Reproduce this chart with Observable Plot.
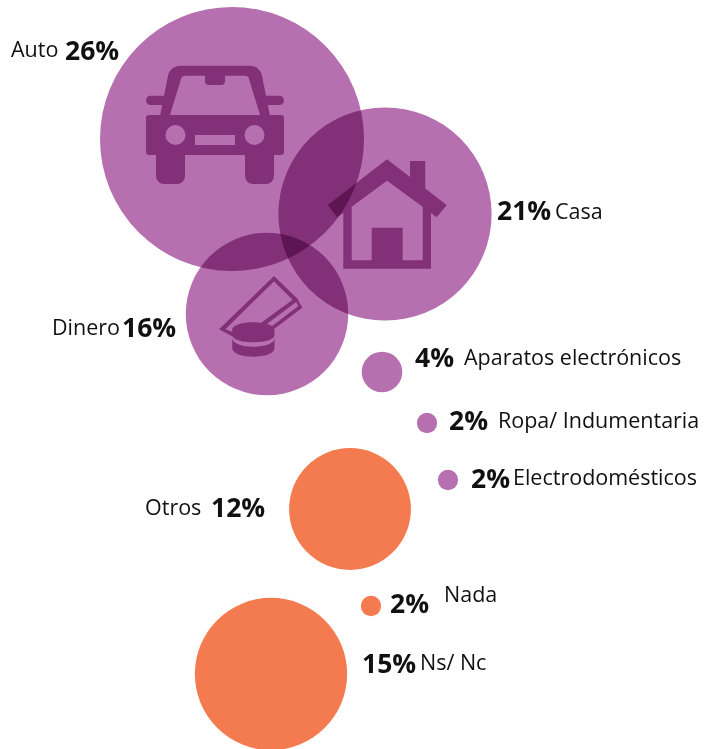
<!DOCTYPE html>
<html lang="es">
<head>
<meta charset="utf-8">
<title>Burbujas</title>
<style>
  html, body { margin: 0; padding: 0; background: #fff; }
  svg { display: block; }
</style>
<script src="https://cdn.jsdelivr.net/npm/d3@7"></script>
<script src="https://cdn.jsdelivr.net/npm/@observablehq/plot@0.6"></script>
</head>
<body>
<div id="chart"></div>
<script>
// Categories and their shares
const categories = ["Auto", "Casa", "Dinero", "Aparatos electrónicos", "Ropa/ Indumentaria", "Electrodomésticos", "Otros", "Nada", "Ns/ Nc"];
const values = [26, 21, 16, 4, 2, 2, 12, 2, 15];
const groups = ["a", "a", "a", "a", "a", "a", "b", "b", "b"];

// Hand-placed layout of the bubbles and their labels
const bubbleX = [231.5, 384.5, 266.5, 381.5, 426.5, 447.5, 349.5, 370.5, 270.5];
const bubbleY = [138.5, 213.5, 313.5, 371.5, 422.5, 479.5, 508.5, 605.5, 673.5];
const shareX = [64.5, 496.5, 121.5, 414.5, 448.5, 470.5, 210.5, 389.5, 361.5];
const shareY = [51, 211, 328, 358.5, 421.5, 479.5, 508, 604.5, 664.5];
const nameX = [10.5, 554.5, 51.5, 463.5, 497.5, 512.5, 144.5, 443.5, 419.5];
const nameY = [50, 212, 328, 358, 421, 478, 508, 595, 663];

const purple = "#B66FAF";
const orange = "#F47B50";
const ink = "#111";

const rows = categories.map((name, i) => ({
  name, value: values[i], group: groups[i],
  bx: bubbleX[i], by: bubbleY[i],
  sx: shareX[i], sy: shareY[i],
  nx: nameX[i], ny: nameY[i]
}));

// Path helpers for the pictograms: clockwise shapes fill, counter-clockwise ones cut holes
function poly(c, pts) {
  c.moveTo(pts[0][0], pts[0][1]);
  for (let i = 1; i < pts.length; ++i) c.lineTo(pts[i][0], pts[i][1]);
  c.closePath();
}
function rounded(c, pts, r) {
  const n = pts.length;
  const a = pts[n - 1], b = pts[0];
  c.moveTo((a[0] + b[0]) / 2, (a[1] + b[1]) / 2);
  for (let i = 0; i < n; ++i) {
    const p = pts[i], q = pts[(i + 1) % n];
    const rad = Array.isArray(r) ? r[i] : r;
    c.arcTo(p[0], p[1], (p[0] + q[0]) / 2, (p[1] + q[1]) / 2, rad);
  }
  c.closePath();
}
function hole(c, x, y, r) {
  c.moveTo(x + r, y);
  c.arc(x, y, r, 0, 2 * Math.PI, true);
  c.closePath();
}

const carSymbol = {
  draw(c) {
    rounded(c, [[-69, -5], [69, -5], [69, 35], [-69, 35]], 3);
    rounded(c, [[-59, 30], [-30, 30], [-30, 64], [-59, 64]], [0, 0, 8, 8]);
    rounded(c, [[30, 30], [59, 30], [59, 64], [30, 64]], [0, 0, 8, 8]);
    hole(c, -39.5, 15, 10);
    hole(c, 39.5, 15, 10);
    poly(c, [[-20, 15], [-20, 25], [20, 25], [20, 15]]);
    // Cabin with the windscreen and rear-view mirror cut out
    rounded(c, [[-55, -4], [-45, -54.3], [45, -54.3], [55, -4]], [0, 12, 12, 0]);
    rounded(c, [[-45, -5], [45, -5], [33, -44.3], [10, -44.3], [10, -35], [-10, -35], [-10, -44.3], [-33, -44.3]],
      [0, 0, 4, 0, 4, 4, 0, 4]);
    // Side mirrors
    rounded(c, [[-69, -24.3], [-44, -24.3], [-44, -15], [-69, -15]], [4.6, 0, 0, 4.6]);
    rounded(c, [[44, -24.3], [69, -24.3], [69, -15], [44, -15]], [0, 4.6, 4.6, 0]);
  }
};

const houseSymbol = {
  draw(c) {
    poly(c, [[0, -50.7], [23, -33], [23, -49], [38.3, -49], [38.3, -21.4], [59.7, -5], [49.7, 7.3], [44, 3.1],
      [44, 58.7], [-43.7, 58.7], [-43.7, 3.1], [-49.7, 7.3], [-59.3, -5]]);
    poly(c, [[0, -29.3], [-35.3, -3.3], [-35.3, 50.3], [-15.3, 50.3], [-15.3, 17.7], [15.7, 17.7], [15.7, 50.3],
      [35.7, 50.3], [35.7, -3.3]]);
  }
};

const moneySymbol = {
  draw(c) {
    // Banknote outline
    poly(c, [[19, -49], [43.8, -25], [-12, 17], [-36, 4.3]]);
    poly(c, [[19, -43.6], [-29.6, 4.2], [-12, 11], [37.6, -25.2]]);
    // Second note behind it
    poly(c, [[42.5, -25.5], [47.4, -17.5], [45, -16], [41, -23]]);
    poly(c, [[44.3, -19.8], [47.2, -17.3], [19, 4], [17.2, 1]]);
    // Coin stack
    c.moveTo(-22.8, 5);
    c.bezierCurveTo(-22.8, -5.2, 19.5, -5.2, 19.5, 5);
    c.lineTo(19.5, 10);
    c.bezierCurveTo(19.5, 19.7, -22.8, 19.7, -22.8, 10);
    c.closePath();
    c.moveTo(-22.8, 13);
    c.bezierCurveTo(-22.8, 24.6, 19.5, 24.6, 19.5, 13);
    c.lineTo(19.5, 23);
    c.bezierCurveTo(19.5, 34.6, -22.8, 34.6, -22.8, 23);
    c.closePath();
  }
};

const iconSymbols = [carSymbol, houseSymbol, moneySymbol];
const iconX = [214.5, 386.5, 254.5];
const iconY = [119.5, 209.5, 324.5];
const icons = iconSymbols.map((symbol, i) => ({ symbol, x: iconX[i], y: iconY[i] }));

const fontFamily = "'Open Sans', 'Noto Sans', sans-serif";

const chart = Plot.plot({
  width: 717,
  height: 749,
  margin: 0,
  style: { background: "#fff", fontFamily },
  x: { domain: [0, 717], range: [0, 717], axis: null },
  y: { domain: [0, 749], range: [0, 749], axis: null },
  r: { type: "linear", domain: [0, 26], range: [0, 132] },
  color: { domain: ["a", "b"], range: [purple, orange] },
  marks: [
    Plot.dot(rows, { x: "bx", y: "by", r: "value", fill: "group", mixBlendMode: "multiply" }),
    ...icons.map((d) => Plot.dot([d], { x: "x", y: "y", r: 1, symbol: d.symbol, fill: purple, mixBlendMode: "multiply" })),
    Plot.text(rows, { x: "sx", y: "sy", text: (d) => `${d.value}%`, textAnchor: "start", fontSize: 26.5, fontWeight: 700, fill: ink }),
    Plot.text(rows, { x: "nx", y: "ny", text: "name", textAnchor: "start", fontSize: 21.5, fill: ink, fontWeight: 400 })
  ]
});

document.getElementById("chart").append(chart);
</script>
</body>
</html>
